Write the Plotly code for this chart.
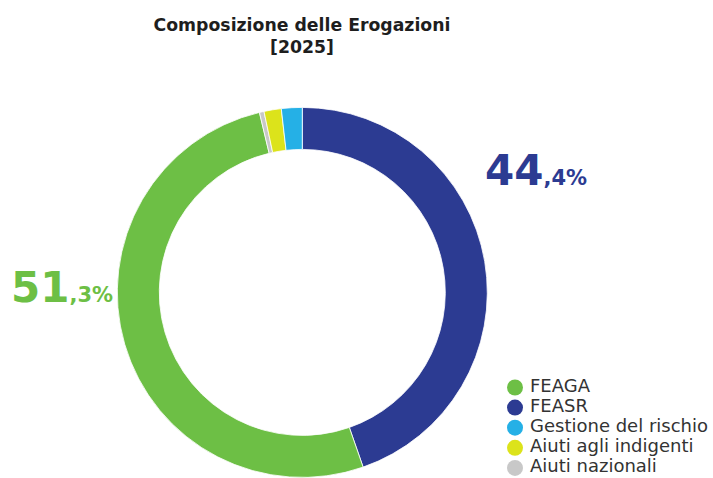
import plotly.graph_objects as go

W, H = 713, 478

# Data
categories = ["FEASR", "FEAGA", "Aiuti nazionali", "Aiuti agli indigenti", "Gestione del rischio"]
values = [44.4, 51.3, 0.4, 1.5, 1.8]
colors = ["#2C3B92", "#6DBF45", "#C8C8C8", "#DCE31B", "#25B0E6"]
legend_order = ["FEAGA", "FEASR", "Gestione del rischio", "Aiuti agli indigenti", "Aiuti nazionali"]
title_text = "Composizione delle Erogazioni<br>[2025]"

color_map = dict(zip(categories, colors))
value_map = dict(zip(categories, values))

fig = go.Figure()

fig.add_trace(go.Pie(
    labels=categories,
    values=values,
    sort=False,
    direction="clockwise",
    rotation=0,
    hole=0.773,
    marker=dict(colors=colors, line=dict(color="white", width=0.8)),
    textinfo="none",
    hoverinfo="label+percent",
    showlegend=False,
    domain=dict(x=[117.3 / W, 487.3 / W], y=[0.6 / H, 370.6 / H]),
))

# Legend drawn as marker + text scatters on their own hidden axes
legend_rows = list(range(len(legend_order)))
fig.add_trace(go.Scatter(
    x=[0] * len(legend_order), y=legend_rows,
    mode="markers",
    marker=dict(color=[color_map[n] for n in legend_order], size=16, symbol="circle"),
    xaxis="x2", yaxis="y2", cliponaxis=False,
    hoverinfo="skip", showlegend=False,
))
fig.add_trace(go.Scatter(
    x=[15 / 198] * len(legend_order), y=legend_rows,
    mode="text",
    text=legend_order,
    textposition="middle right",
    textfont=dict(family="DejaVu Sans", size=18, color="#333333"),
    xaxis="x2", yaxis="y2", cliponaxis=False,
    hoverinfo="skip", showlegend=False,
))


def pct_label(v):
    s = f"{v:.1f}".replace(".", ",")
    whole, dec = s.split(",")
    return (f"<span style='font-size:42px'>{whole}</span>"
            f"<span style='font-size:21px'>,{dec}%</span>")


fig.add_annotation(
    x=483 / W, y=1 - 170 / H, xref="paper", yref="paper",
    xanchor="left", yanchor="middle", showarrow=False,
    text=pct_label(value_map["FEASR"]),
    font=dict(family="DejaVu Sans", color=color_map["FEASR"], size=21, weight=700),
)
fig.add_annotation(
    x=9 / W, y=1 - 287 / H, xref="paper", yref="paper",
    xanchor="left", yanchor="middle", showarrow=False,
    text=pct_label(value_map["FEAGA"]),
    font=dict(family="DejaVu Sans", color=color_map["FEAGA"], size=21, weight=700),
)

row_h = 20.1
fig.update_layout(
    width=W, height=H,
    margin=dict(l=0, r=0, t=0, b=0, autoexpand=False),
    paper_bgcolor="white", plot_bgcolor="rgba(0,0,0,0)",
    title=dict(
        text=title_text,
        x=302 / W, xanchor="center", y=1 - 31 / H, yanchor="top",
        font=dict(family="DejaVu Sans", size=17.3, color="#1E1E1E", weight=700),
    ),
    xaxis=dict(visible=False, domain=[0, 0.01]),
    yaxis=dict(visible=False, domain=[0, 0.01]),
    xaxis2=dict(visible=False, domain=[515 / W, 1], range=[0, 1], fixedrange=True),
    yaxis2=dict(visible=False, anchor="x2",
                domain=[(H - (387.5 + 4.5 * row_h)) / H, (H - (387.5 - 0.5 * row_h)) / H],
                range=[4.5, -0.5], fixedrange=True),
    showlegend=False,
)

fig.write_html("out.html", config={"displayModeBar": False},
               post_script="document.body.style.margin='0px';")
